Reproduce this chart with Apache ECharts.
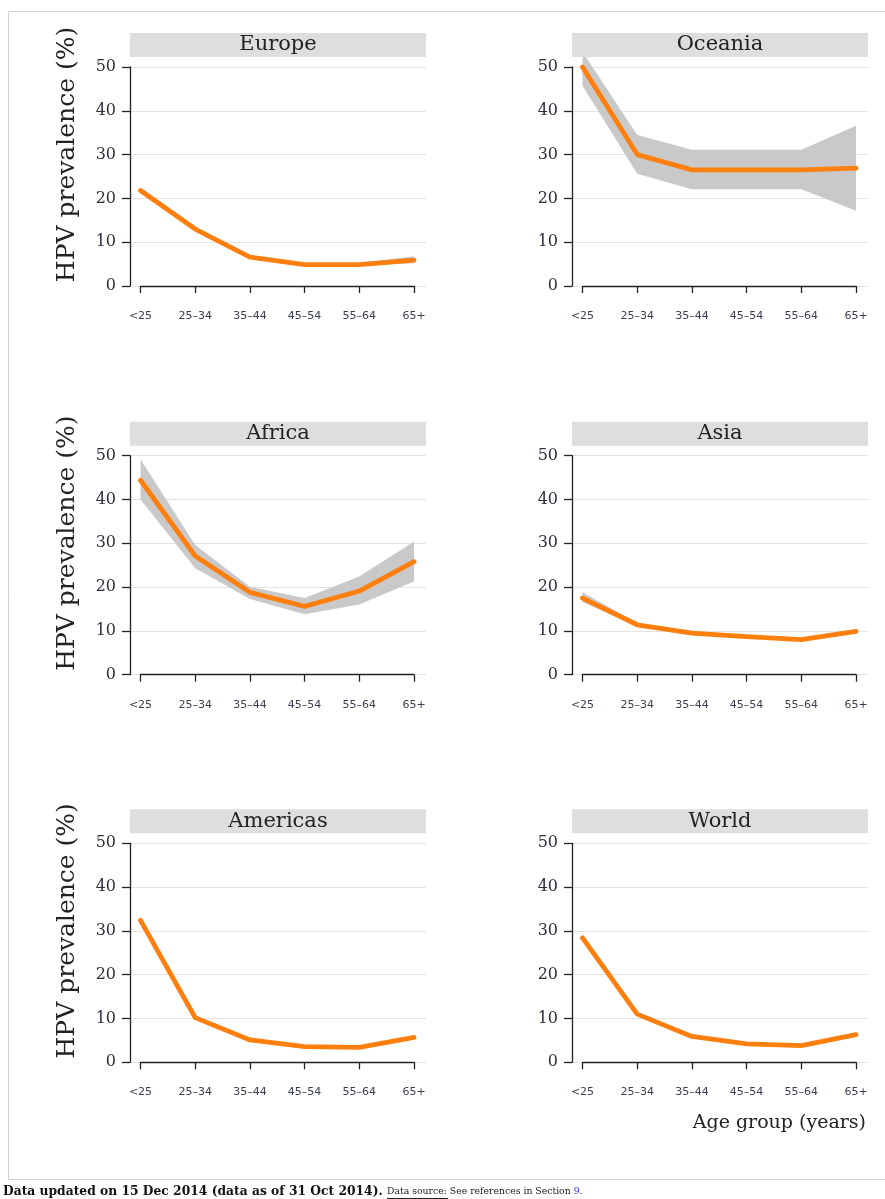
<!DOCTYPE html>
<html>
<head>
<meta charset="utf-8">
<script src="https://cdn.jsdelivr.net/npm/echarts@6/dist/echarts.min.js"></script>
<style>
  html, body { margin: 0; padding: 0; background: #ffffff; }
  #chart { width: 885px; height: 1199px; }
</style>
</head>
<body>
<div id="chart"></div>
<script>
// ---------- data ----------
const categories = ['<25', '25–34', '35–44', '45–54', '55–64', '65+'];
const regionNames = ['Europe', 'Oceania', 'Africa', 'Asia', 'Americas', 'World'];

const europeEst  = [21.8, 13.0, 6.6, 4.9, 4.9, 5.9];
const europeLow  = [21.2, 12.6, 6.3, 4.6, 4.6, 5.2];
const europeHigh = [22.5, 13.4, 6.9, 5.2, 5.3, 6.8];

const oceaniaEst  = [50.0, 30.0, 26.5, 26.5, 26.5, 26.9];
const oceaniaLow  = [45.7, 25.6, 22.1, 22.1, 22.1, 17.2];
const oceaniaHigh = [53.5, 34.5, 31.1, 31.1, 31.1, 36.6];

const africaEst  = [44.4, 27.1, 18.8, 15.6, 19.1, 25.8];
const africaLow  = [40.0, 24.3, 17.3, 13.8, 16.0, 21.3];
const africaHigh = [49.2, 29.6, 20.1, 17.5, 22.4, 30.4];

const asiaEst  = [17.5, 11.4, 9.5, 8.7, 8.0, 9.9];
const asiaLow  = [16.6, 11.0, 9.2, 8.4, 7.6, 9.5];
const asiaHigh = [18.8, 11.8, 9.8, 9.0, 8.5, 10.4];

const americasEst  = [32.4, 10.2, 5.1, 3.6, 3.4, 5.7];
const americasLow  = [32.0, 10.0, 5.0, 3.5, 3.2, 5.5];
const americasHigh = [32.8, 10.4, 5.3, 3.7, 3.6, 5.9];

const worldEst  = [28.4, 11.0, 5.9, 4.2, 3.8, 6.3];
const worldLow  = [28.1, 10.8, 5.8, 4.1, 3.7, 6.1];
const worldHigh = [28.7, 11.2, 6.0, 4.3, 3.9, 6.5];

const yMin = 0, yMax = 50, yStep = 10;

const panels = [
  { name: regionNames[0], est: europeEst,   lo: europeLow,   hi: europeHigh },
  { name: regionNames[1], est: oceaniaEst,  lo: oceaniaLow,  hi: oceaniaHigh },
  { name: regionNames[2], est: africaEst,   lo: africaLow,   hi: africaHigh },
  { name: regionNames[3], est: asiaEst,     lo: asiaLow,     hi: asiaHigh },
  { name: regionNames[4], est: americasEst, lo: americasLow, hi: americasHigh },
  { name: regionNames[5], est: worldEst,    lo: worldLow,    hi: worldHigh }
];

// ---------- layout ----------
const colLeft = [130, 572];
const plotW = 296;
const rowTop = [67, 455.7, 843.3];
const plotH = 219;
const innerPadL = 10.5, innerPadR = 12;

const serif = 'DejaVu Serif';
const axisColor = '#222222';

const grid = [], xAxis = [], yAxis = [], series = [], graphic = [];

panels.forEach((p, i) => {
  const col = i % 2, row = Math.floor(i / 2);
  const L = colLeft[col], T = rowTop[row];
  const g0 = 2 * i, g1 = 2 * i + 1;

  grid.push({ left: L, top: T, width: plotW, height: plotH });
  grid.push({ left: L + innerPadL, top: T, width: plotW - innerPadL - innerPadR, height: plotH });

  xAxis.push({
    gridIndex: g0, type: 'category', data: categories, boundaryGap: false, show: false
  });
  yAxis.push({
    gridIndex: g0, type: 'value', min: yMin, max: yMax, interval: yStep,
    axisLine: { show: true, lineStyle: { color: axisColor, width: 1.3 } },
    axisTick: { show: true, length: 8, lineStyle: { color: axisColor, width: 1.3 } },
    axisLabel: { margin: 14, fontFamily: serif, fontSize: 16, color: '#2c2f3e' },
    splitLine: { show: true, lineStyle: { color: '#e3e3e3', width: 1 } }
  });

  xAxis.push({
    gridIndex: g1, type: 'category', data: categories, boundaryGap: false,
    offset: 11.5,
    axisLine: { show: true, lineStyle: { color: axisColor, width: 1.3 } },
    axisTick: { show: true, length: 7, lineStyle: { color: axisColor, width: 1.3 } },
    axisLabel: { interval: 0, margin: 13, fontFamily: 'DejaVu Sans', fontSize: 11, color: '#3a3f52' },
    splitLine: { show: false }
  });
  yAxis.push({ gridIndex: g1, type: 'value', min: yMin, max: yMax, show: false });

  const band = p.hi.map((h, k) => +(h - p.lo[k]).toFixed(2));

  series.push({
    type: 'line', xAxisIndex: g1, yAxisIndex: g1, data: p.lo, stack: 'ci' + i,
    symbol: 'none', silent: true, clip: false,
    lineStyle: { opacity: 0 }, z: 2
  });
  series.push({
    type: 'line', xAxisIndex: g1, yAxisIndex: g1, data: band, stack: 'ci' + i,
    symbol: 'none', silent: true, clip: false,
    lineStyle: { opacity: 0 },
    areaStyle: { color: '#c9c9c9', opacity: 1 }, z: 2
  });
  series.push({
    type: 'line', xAxisIndex: g1, yAxisIndex: g1, data: p.est,
    symbol: 'none', silent: true, clip: false,
    lineStyle: { color: '#ff7f0e', width: 4.8, cap: 'round', join: 'round' }, z: 3
  });

  // strip header
  graphic.push({
    type: 'rect', z: 100, silent: true,
    shape: { x: L, y: T - 34, width: plotW, height: 24 },
    style: { fill: '#dedede' }
  });
  graphic.push({
    type: 'text', z: 101, silent: true,
    x: L + plotW / 2, y: T - 22,
    style: { text: p.name, font: '21px "' + serif + '"', fill: '#222222',
             textAlign: 'center', textVerticalAlign: 'middle' }
  });

  if (col === 0) {
    graphic.push({
      type: 'text', z: 101, silent: true,
      x: 67, y: T + plotH / 2 - 22, rotation: Math.PI / 2,
      style: { text: 'HPV prevalence (%)', font: '25px "' + serif + '"', fill: '#222222',
               textAlign: 'center', textVerticalAlign: 'middle' }
    });
  }
});

// axis title
graphic.push({
  type: 'text', z: 101, silent: true, x: 866, y: 1123,
  style: { text: 'Age group (years)', font: '19px "' + serif + '"', fill: '#222222',
           textAlign: 'right', textVerticalAlign: 'middle' }
});

// frame
graphic.push({
  type: 'rect', z: 0, silent: true,
  shape: { x: 8.5, y: 11.5, width: 900, height: 1168 },
  style: { fill: 'none', stroke: '#d2d2d2', lineWidth: 1 }
});

// footer
graphic.push({
  type: 'text', z: 101, silent: true, x: 3, y: 1192,
  style: { text: 'Data updated on 15 Dec 2014 (data as of 31 Oct 2014).',
           font: 'bold 12.3px "' + serif + '"', fill: '#111111',
           textAlign: 'left', textVerticalAlign: 'middle' }
});
graphic.push({
  type: 'text', z: 101, silent: true, x: 387, y: 1192,
  style: { text: '{u|Data source:} See references in Section {b|9}.',
           font: '9.3px "' + serif + '"', fill: '#222222',
           textAlign: 'left', textVerticalAlign: 'middle',
           rich: { u: { fill: '#222222', font: '9.3px "' + serif + '"' },
                   b: { fill: '#3333ff', font: '9.3px "' + serif + '"' } } }
});
graphic.push({
  type: 'line', z: 101, silent: true,
  shape: { x1: 387, y1: 1198.5, x2: 448, y2: 1198.5 },
  style: { stroke: '#222222', lineWidth: 1 }
});

const chart = echarts.init(document.getElementById('chart'), null, { renderer: 'canvas' });
chart.setOption({
  animation: false,
  backgroundColor: '#ffffff',
  grid, xAxis, yAxis, series, graphic
});
</script>
</body>
</html>
